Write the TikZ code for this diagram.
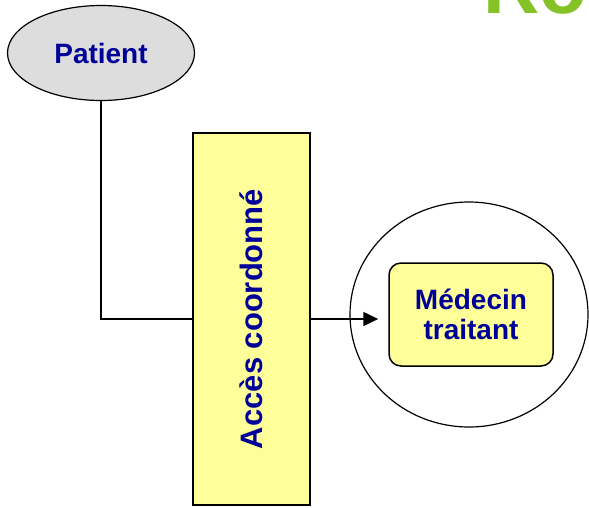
\documentclass[tikz,border=0pt]{standalone}
\usepackage{fontspec}
\setmainfont{Liberation Sans}
\usetikzlibrary{arrows.meta,shapes.geometric,positioning}
\definecolor{navytext}{HTML}{000099}
\definecolor{paleyellow}{HTML}{FFFF99}
\definecolor{titlegreen}{HTML}{84C225}
\definecolor{ovalgray}{HTML}{DDDDDD}

\begin{document}
\begin{tikzpicture}[x=1pt,y=-1pt,
  lbl/.style={text=navytext,font=\bfseries\fontsize{28}{30}\selectfont,align=center},
  box/.style={draw,line width=1.5pt,fill=paleyellow},
  link/.style={line width=1.5pt}]
\useasboundingbox (0,0) rectangle (589,507);
\clip (0,0) rectangle (589,507);
% title, cut by the page edge
\node[text=titlegreen,font=\bfseries\fontsize{78}{78}\selectfont,anchor=base west,inner sep=0] (title) at (483,13) {Ro};
% patient
\node[ellipse,draw,line width=1.2pt,fill=ovalgray,minimum width=187,minimum height=95,lbl] (patient) at (101,53) {Patient};
% coordinated access bar
\node[box,minimum width=117,minimum height=372] (bar) at (251.5,319) {};
\node[lbl,font=\bfseries\fontsize{31}{31}\selectfont,rotate=90] (barlbl) at (bar.center) {Accès coordonné};
% doctor inside circle
\node[ellipse,draw,line width=1.2pt,minimum width=238,minimum height=225] (cabinet) at (469,314.5) {};
\node[box,rounded corners=12pt,minimum width=164,minimum height=103,lbl] (doc) at (471,314.5) {Médecin\\traitant};
% links
\draw[link] (patient.south) |- (bar.west);
\draw[link,-{Triangle[length=15pt,width=14pt]},shorten >=10pt] (bar.east) -- (bar.east -| doc.west);
\end{tikzpicture}
\end{document}
